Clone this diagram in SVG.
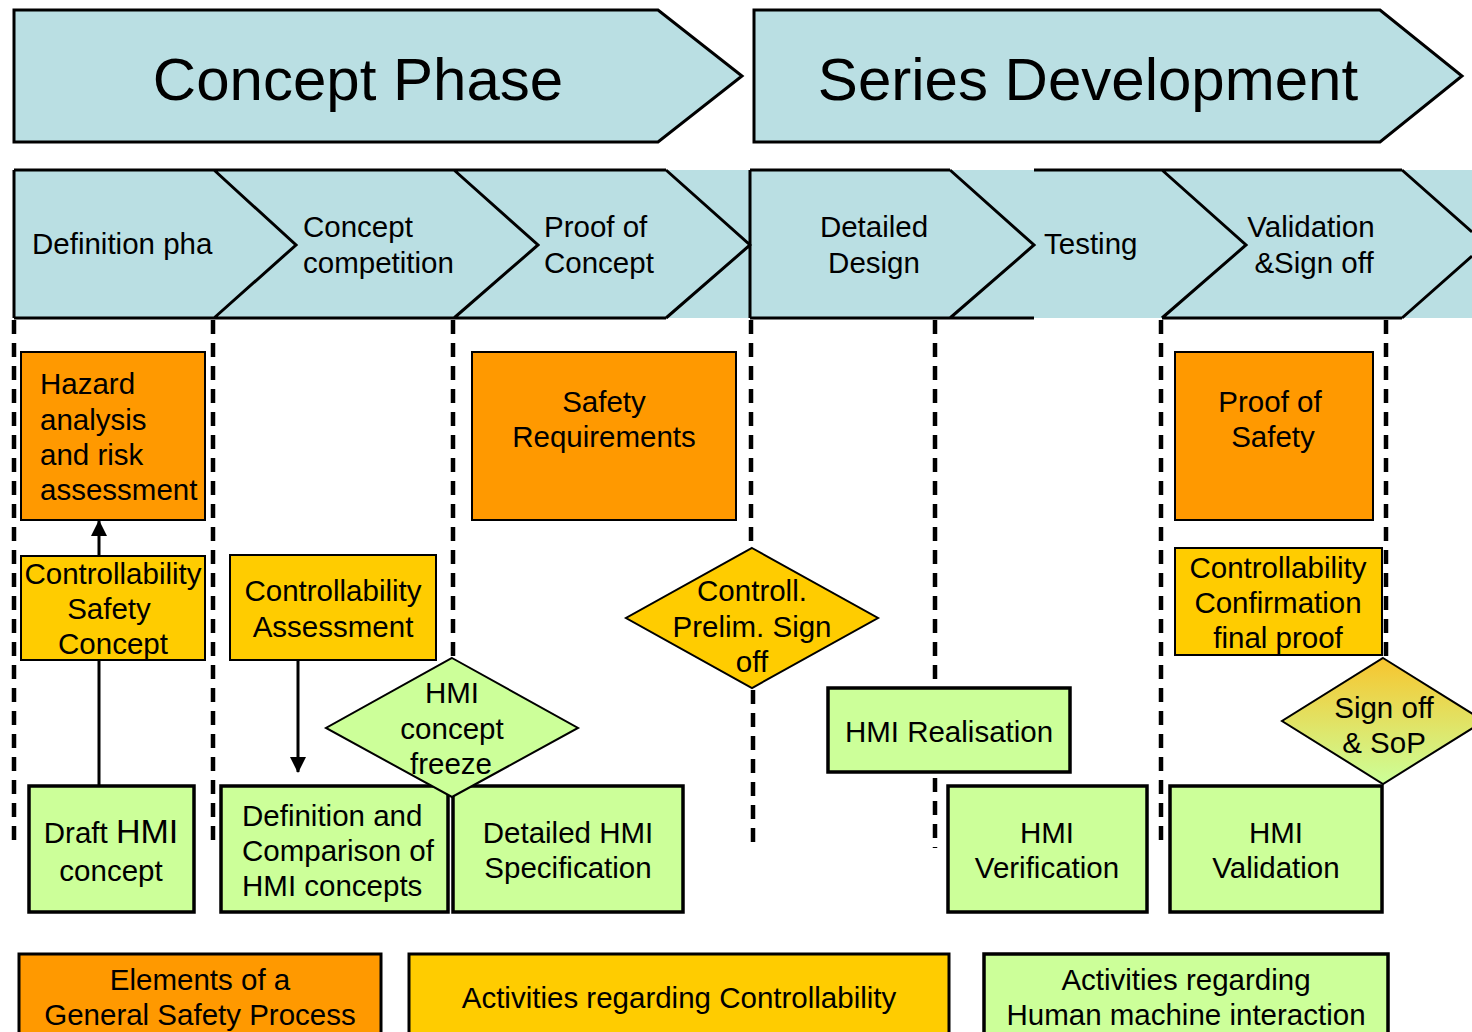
<svg xmlns="http://www.w3.org/2000/svg" width="1472" height="1032" viewBox="0 0 1472 1032">
  <style>
    text { font-family: "Liberation Sans", Arial, sans-serif; fill: #000; }
    .hdr { font-size: 60px; text-anchor: middle; }
    .chev { font-size: 29.5px; }
    .mid { text-anchor: middle; }
    .lbl { font-size: 29.5px; }
    .phase { fill: #BADFE3; stroke: #000; stroke-width: 3; stroke-linejoin: miter; }
    .edge { fill: none; stroke: #000; stroke-width: 3; }
    .dash { fill: none; stroke: #000; stroke-width: 4.5; stroke-dasharray: 14 9; }
    .safety { fill: #FF9900; stroke: #000; stroke-width: 2; }
    .ctrl { fill: #FFCC00; stroke: #000; stroke-width: 2; }
    .hmi { fill: #CCFF99; stroke: #000; stroke-width: 3.5; }
    .conn { fill: none; stroke: #000; stroke-width: 3; }
  </style>
  <defs>
    <marker id="arrow" markerUnits="userSpaceOnUse" markerWidth="16" markerHeight="16" refX="15" refY="8" orient="auto">
      <path d="M0,0 L16,8 L0,16 z" fill="#000"/>
    </marker>
    <linearGradient id="signoffFill" x1="0" y1="0" x2="0" y2="1">
      <stop offset="0" stop-color="#F7C52E"/>
      <stop offset="1" stop-color="#CCFF99"/>
    </linearGradient>
  </defs>

  <!-- project phases -->
  <g id="concept-phase">
    <polygon class="phase" points="14,10 658,10 742,76 658,142 14,142"/>
    <text class="hdr" x="358" y="100">Concept Phase</text>
  </g>
  <g id="series-development">
    <polygon class="phase" points="754,10 1380,10 1462,76 1380,142 754,142"/>
    <text class="hdr" x="1088" y="100">Series Development</text>
  </g>

  <!-- milestone chevron strip -->
  <g id="chevron-strip">
    <rect x="14" y="170" width="1458" height="148" fill="#BADFE3"/>
    <path class="edge" d="M14,170 H666 M14,318 H666 M14,170 V318
      M750,170 H950 M750,318 H1034 M750,170 V318
      M1034,170 H1402 M1162,318 H1402
      M214,170 L296,245 L214,318
      M454,170 L538,245 L454,318
      M666,170 L750,245 L666,318
      M950,170 L1034,245 L950,318
      M1162,170 L1246,245 L1162,318
      M1402,170 L1472,232 M1402,318 L1472,256"/>
  </g>
  <g id="step-definition"><text class="chev" x="32" y="254">Definition pha</text></g>
  <g id="step-competition">
    <text class="chev" x="303" y="237">Concept</text>
    <text class="chev" x="303" y="273">competition</text>
  </g>
  <g id="step-proof-concept">
    <text class="chev" x="544" y="237">Proof of</text>
    <text class="chev" x="544" y="273">Concept</text>
  </g>
  <g id="step-detailed-design">
    <text class="chev mid" x="874" y="237">Detailed</text>
    <text class="chev mid" x="874" y="273">Design</text>
  </g>
  <g id="step-testing"><text class="chev" x="1044" y="254">Testing</text></g>
  <g id="step-validation">
    <text class="chev mid" x="1311" y="237">Validation</text>
    <text class="chev mid" x="1314" y="273">&amp;Sign off</text>
  </g>

  <!-- milestone separators -->
  <g id="separators">
    <path class="dash" d="M14,320 V848"/>
    <path class="dash" d="M213,320 V848"/>
    <path class="dash" d="M453,320 V658"/>
    <path class="dash" d="M751,320 V548 M753,690 V848"/>
    <path class="dash" d="M935,320 V688 M935,778 V848"/>
    <path class="dash" d="M1161,320 V848"/>
    <path class="dash" d="M1386,320 V656"/>
  </g>

  <!-- connectors -->
  <g id="connectors">
    <path class="conn" d="M99,786 V521" marker-end="url(#arrow)"/>
    <path class="conn" d="M298,660 V772" marker-end="url(#arrow)"/>
  </g>

  <!-- general safety process -->
  <g id="hazard-analysis">
    <rect class="safety" x="21" y="352" width="184" height="168"/>
    <text class="lbl" x="40" y="394">Hazard</text>
    <text class="lbl" x="40" y="430">analysis</text>
    <text class="lbl" x="40" y="465">and risk</text>
    <text class="lbl" x="40" y="500">assessment</text>
  </g>
  <g id="safety-requirements">
    <rect class="safety" x="472" y="352" width="264" height="168"/>
    <text class="lbl mid" x="604" y="412">Safety</text>
    <text class="lbl mid" x="604" y="447">Requirements</text>
  </g>
  <g id="proof-of-safety">
    <rect class="safety" x="1175" y="352" width="198" height="168"/>
    <text class="lbl mid" x="1270" y="412">Proof of</text>
    <text class="lbl mid" x="1273" y="447">Safety</text>
  </g>

  <!-- controllability activities -->
  <g id="ctrl-safety-concept">
    <rect class="ctrl" x="21" y="556" width="184" height="104"/>
    <text class="lbl mid" x="113" y="584">Controllability</text>
    <text class="lbl mid" x="109" y="619">Safety</text>
    <text class="lbl mid" x="113" y="654">Concept</text>
  </g>
  <g id="ctrl-assessment">
    <rect class="ctrl" x="230" y="555" width="206" height="105"/>
    <text class="lbl mid" x="333" y="601">Controllability</text>
    <text class="lbl mid" x="333" y="637">Assessment</text>
  </g>
  <g id="ctrl-prelim-signoff">
    <polygon class="ctrl" points="752,548 878,618 752,688 626,618"/>
    <text class="lbl mid" x="752" y="601">Controll.</text>
    <text class="lbl mid" x="752" y="637">Prelim. Sign</text>
    <text class="lbl mid" x="752" y="672">off</text>
  </g>
  <g id="ctrl-confirmation">
    <rect class="ctrl" x="1175" y="548" width="207" height="107"/>
    <text class="lbl mid" x="1278" y="578">Controllability</text>
    <text class="lbl mid" x="1278" y="613">Confirmation</text>
    <text class="lbl mid" x="1278" y="648">final proof</text>
  </g>

  <!-- human machine interaction activities -->
  <g id="draft-hmi">
    <rect class="hmi" x="29" y="786" width="165" height="126"/>
    <text class="lbl mid" x="111" y="843">Draft <tspan font-size="34">HMI</tspan></text>
    <text class="lbl mid" x="111" y="881">concept</text>
  </g>
  <g id="hmi-comparison">
    <rect class="hmi" x="221" y="786" width="227" height="126"/>
    <text class="lbl" x="242" y="826">Definition and</text>
    <text class="lbl" x="242" y="861">Comparison of</text>
    <text class="lbl" x="242" y="896">HMI concepts</text>
  </g>
  <g id="hmi-specification">
    <rect class="hmi" x="453" y="786" width="230" height="126"/>
    <text class="lbl mid" x="568" y="843">Detailed HMI</text>
    <text class="lbl mid" x="568" y="878">Specification</text>
  </g>
  <g id="hmi-concept-freeze">
    <polygon class="hmi" style="stroke-width:2" points="452,658 578,728 452,797 326,728"/>
    <text class="lbl mid" x="452" y="703">HMI</text>
    <text class="lbl mid" x="452" y="739">concept</text>
    <text class="lbl mid" x="451" y="774">freeze</text>
  </g>
  <g id="hmi-realisation">
    <rect class="hmi" x="828" y="688" width="242" height="84"/>
    <text class="lbl mid" x="949" y="742">HMI Realisation</text>
  </g>
  <g id="hmi-verification">
    <rect class="hmi" x="948" y="786" width="199" height="126"/>
    <text class="lbl mid" x="1047" y="843">HMI</text>
    <text class="lbl mid" x="1047" y="878">Verification</text>
  </g>
  <g id="hmi-validation">
    <rect class="hmi" x="1170" y="786" width="212" height="126"/>
    <text class="lbl mid" x="1276" y="843">HMI</text>
    <text class="lbl mid" x="1276" y="878">Validation</text>
  </g>
  <g id="signoff-sop">
    <polygon fill="url(#signoffFill)" stroke="#000" stroke-width="2" points="1383,658 1484,721 1383,784 1282,721"/>
    <text class="lbl mid" x="1384" y="718">Sign off</text>
    <text class="lbl mid" x="1384" y="753">&amp; SoP</text>
  </g>

  <!-- legend -->
  <g id="legend-safety">
    <rect class="safety" style="stroke-width:3" x="19" y="954" width="362" height="90"/>
    <text class="lbl mid" x="200" y="990">Elements of a</text>
    <text class="lbl mid" x="200" y="1025">General Safety Process</text>
  </g>
  <g id="legend-controllability">
    <rect class="ctrl" style="stroke-width:3" x="409" y="954" width="540" height="90"/>
    <text class="lbl mid" x="679" y="1008">Activities regarding Controllability</text>
  </g>
  <g id="legend-hmi">
    <rect class="hmi" x="984" y="954" width="404" height="90"/>
    <text class="lbl mid" x="1186" y="990">Activities regarding</text>
    <text class="lbl mid" x="1186" y="1025">Human machine interaction</text>
  </g>
</svg>
